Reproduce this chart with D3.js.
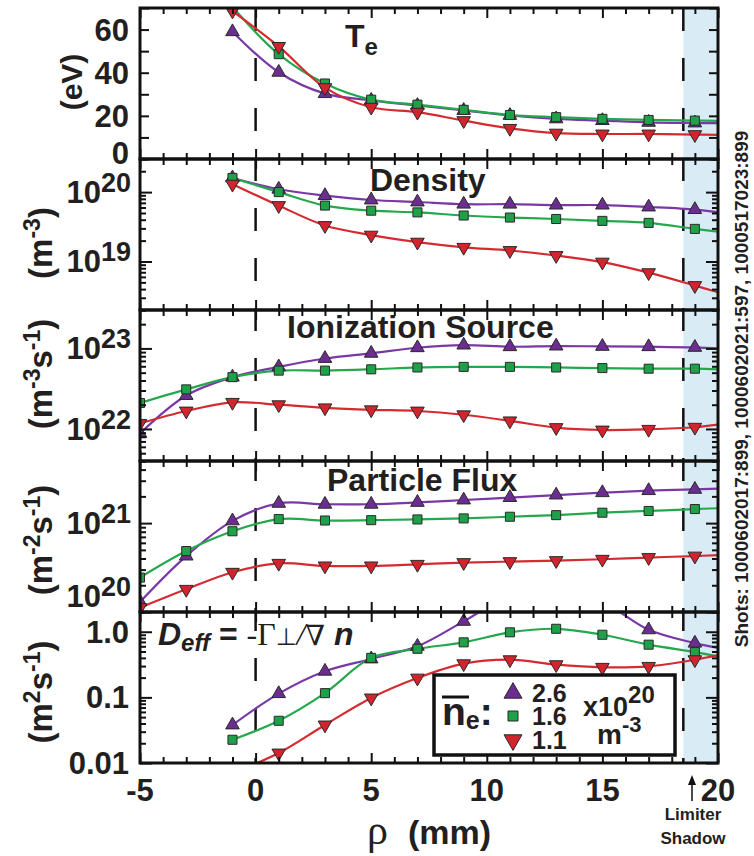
<!DOCTYPE html>
<html><head><meta charset="utf-8">
<script src="https://cdn.jsdelivr.net/npm/d3@7"></script>
<style>
body{margin:0;background:#fff}
svg{display:block;font-family:"Liberation Sans",Arial,Helvetica,sans-serif}
</style>
</head><body>
<svg id="c" width="754" height="856"></svg>
<script>
// ---------- data ----------
const rho = [-5,-3,-1,1,3,5,7,9,11,13,15,17,19,20];   // mm ; 20 = curve end at the plot edge (no marker)
const lineEnd = 20;
const rhoDomain = [-5, 20];
const xTicks = [-5, 0, 5, 10, 15, 20];
const separatrix = 0;
const limiterRho = 18.5;

const densityLabels = ["2.6","1.6","1.1"];   // x10^20 m^-3

// Te (eV)
const tePurple = [null,null,59,40.2,30.3,27.2,24.8,22.5,20.2,18.6,17.8,17.0,16.7,16.6];
const teGreen  = [null,null,70.5,48.6,35.0,27.5,25.2,22.8,20.4,19.4,18.6,18.1,17.8,17.7];
const teRed    = [null,null,68.6,52.2,33.1,24.0,21.7,17.8,14.2,12.0,11.6,11.6,11.3,11.2];
const teDomain = [0, 70];
const teTicks = [0, 20, 40, 60];

// Density (m^-3)
const nePurple = [null,null,1.6e20,1.1e20,8.9e19,7.7e19,7.2e19,6.7e19,6.7e19,6.5e19,6.5e19,6.1e19,5.6e19,5.1e19];
const neGreen  = [null,null,1.6e20,1.0e20,6.4e19,5.4e19,5.1e19,4.6e19,4.3e19,4.1e19,3.85e19,3.6e19,2.95e19,2.7e19];
const neRed    = [null,null,1.3e20,6.4e19,3.3e19,2.4e19,1.9e19,1.6e19,1.44e19,1.22e19,9.8e18,6.9e18,4.5e18,3.6e18];
const neDomain = [2e18, 3e20];
const neTicks = [1e19, 1e20];

// Ionization source (m^-3 s^-1)
const ionPurple = [8.8e21,2.6e22,4.4e22,5.9e22,7.5e22,8.7e22,1.02e23,1.1e23,1.05e23,1.07e23,1.06e23,1.05e23,1.03e23,1.0e23];
const ionGreen  = [2.1e22,3.1e22,4.4e22,5.3e22,5.3e22,5.5e22,5.8e22,5.9e22,5.9e22,5.8e22,5.7e22,5.6e22,5.6e22,5.5e22];
const ionRed    = [1.17e22,1.67e22,2.14e22,2.0e22,1.83e22,1.73e22,1.67e22,1.5e22,1.26e22,1.04e22,9.7e21,9.9e21,1.05e22,1.13e22];
const ionDomain = [4e21, 3e23];
const ionTicks = [1e22, 1e23];

// Particle flux (m^-2 s^-1)
const fluxPurple = [1.3e20,4.26e20,1.06e21,1.67e21,1.63e21,1.63e21,1.71e21,1.82e21,1.94e21,2.07e21,2.2e21,2.32e21,2.4e21,2.45e21];
const fluxGreen  = [2.44e20,4.85e20,8.1e20,1.11e21,1.07e21,1.08e21,1.1e21,1.13e21,1.18e21,1.23e21,1.31e21,1.37e21,1.44e21,1.47e21];
const fluxRed    = [1.12e20,1.8e20,2.8e20,3.53e20,3.3e20,3.3e20,3.44e20,3.6e20,3.69e20,3.79e20,3.92e20,4.1e20,4.26e20,4.37e20];
const fluxDomain = [1e20, 5e21];
const fluxTicks = [1e20, 1e21];

// D_eff (m^2 s^-1)
const dPurple = [null,null,0.038,0.114,0.25,0.385,0.6,1.44,3.5,4.0,2.8,1.07,0.67,0.565];
const dGreen  = [null,null,0.0226,0.044,0.116,0.40,0.55,0.69,0.98,1.11,0.90,0.635,0.49,0.42];
const dRed    = [null,null,0.007,0.0142,0.038,0.098,0.197,0.326,0.375,0.315,0.287,0.297,0.375,0.44];
const dDomain = [0.01, 2];
const dTicks = [0.01, 0.1, 1];
const dTickLabels = ["0.01","0.1","1.0"];

const shotsText = "Shots: 1000602017:899, 1000602021:597, 1000517023:899";

// ---------- layout / style ----------
const L = 140, R = 718, TOP = 8, PH = 151;
const fills = ["#6b2d8f", "#1fa14a", "#d2242d"];
const strokes = ["#7a38a6", "#25a84d", "#d62a31"];

const svg = d3.select("#c");
const x = d3.scaleLinear().domain(rhoDomain).range([L, R]);

function supLabel(g, parts, attrs) {
  const t = g.append("text");
  Object.entries(attrs).forEach(([k, v]) => t.attr(k, v));
  parts.forEach(p => {
    const s = t.append("tspan").text(p.t);
    if (p.size) s.attr("font-size", p.size);
    if (p.dy) s.attr("dy", p.dy);
    if (p.dx) s.attr("dx", p.dx);
    if (p.family) s.attr("font-family", p.family);
    if (p.style) s.attr("font-style", p.style);
    if (p.weight) s.attr("font-weight", p.weight);
  });
  return t;
}

const panels = [
  {type:"lin", domain:teDomain, data:[tePurple,teGreen,teRed], ticks:teTicks,
   minor:d3.range(0,71,10), labels:teTicks.map(v=>[{t:String(v)}]), lift:{0:6},
   unit:[{t:"(eV)"}], unitPos:[82,82], unitSize:30},
  {type:"log", domain:neDomain, data:[nePurple,neGreen,neRed], ticks:neTicks,
   labels:neTicks.map(v=>[{t:"10"},{t:String(Math.round(Math.log10(v))),size:27,dy:-11}]), lift:{},
   unit:[{t:"(m"},{t:"-3",size:23,dy:-12},{t:")",dy:12}], unitPos:[52,243], unitSize:33},
  {type:"log", domain:ionDomain, data:[ionPurple,ionGreen,ionRed], ticks:ionTicks,
   labels:ionTicks.map(v=>[{t:"10"},{t:String(Math.round(Math.log10(v))),size:27,dy:-11}]), lift:{},
   unit:[{t:"(m"},{t:"-3",size:23,dy:-12},{t:"s",dy:12},{t:"-1",size:23,dy:-12},{t:")",dy:12}], unitPos:[52,374], unitSize:33},
  {type:"log", domain:fluxDomain, data:[fluxPurple,fluxGreen,fluxRed], ticks:fluxTicks,
   labels:fluxTicks.map(v=>[{t:"10"},{t:String(Math.round(Math.log10(v))),size:27,dy:-11}]), lift:{0:16},
   unit:[{t:"(m"},{t:"-2",size:23,dy:-12},{t:"s",dy:12},{t:"-1",size:23,dy:-12},{t:")",dy:12}], unitPos:[52,540], unitSize:33},
  {type:"log", domain:dDomain, data:[dPurple,dGreen,dRed], ticks:dTicks,
   labels:dTickLabels.map(s=>[{t:s}]), lift:{},
   unit:[{t:"(m"},{t:"2",size:23,dy:-12},{t:"s",dy:12},{t:"-1",size:23,dy:-12},{t:")",dy:12}], unitPos:[52,692], unitSize:33}
];

const defs = svg.append("defs");
const bottomAll = TOP + PH * panels.length;

// shading (limiter shadow) across all panels
svg.append("rect").attr("x", x(limiterRho)).attr("y", TOP)
  .attr("width", x(rhoDomain[1]) - x(limiterRho)).attr("height", bottomAll - TOP)
  .attr("fill", "#d9ecf5");

// dashed lines
[separatrix, limiterRho].forEach(v => {
  svg.append("line").attr("x1", x(v)).attr("x2", x(v)).attr("y1", TOP).attr("y2", bottomAll)
    .attr("stroke", "#111").attr("stroke-width", 2.5).attr("stroke-dasharray", "23,27");
});

const symTypes = [
  d3.symbol().type(d3.symbolTriangle).size(80)(),
  d3.symbol().type(d3.symbolSquare).size(82)(),
  d3.symbol().type(d3.symbolTriangle).size(80)()
];
const symRot = [0, 0, 180];

panels.forEach((p, pi) => {
  const top = TOP + pi * PH, bot = top + PH;
  const y = (p.type === "log" ? d3.scaleLog() : d3.scaleLinear()).domain(p.domain).range([bot, top]);
  p.y = y;
  const cid = "clip" + pi;
  defs.append("clipPath").attr("id", cid).append("rect")
    .attr("x", L).attr("y", top).attr("width", R - L).attr("height", PH);
  const g = svg.append("g").attr("clip-path", `url(#${cid})`);

  const line = d3.line().defined(d => d[1] != null)
    .x(d => x(d[0])).y(d => y(d[1])).curve(d3.curveCatmullRom.alpha(0.5));

  p.data.forEach((arr, si) => {
    const pts = rho.map((r, i) => [r, arr[i]]);
    g.append("path").datum(pts).attr("d", line)
      .attr("fill", "none").attr("stroke", strokes[si]).attr("stroke-width", 2.2);
  });
  p.data.forEach((arr, si) => {
    const pts = rho.map((r, i) => [r, arr[i]]).filter(d => d[1] != null && d[0] !== lineEnd);
    g.selectAll(null).data(pts).enter().append("path")
      .attr("d", symTypes[si])
      .attr("transform", d => `translate(${x(d[0])},${y(d[1])}) rotate(${symRot[si]})`)
      .attr("fill", fills[si]).attr("stroke", "#2a2a2a").attr("stroke-width", 1);
  });

  // ticks via d3 axes
  let minorVals, majorVals;
  if (p.type === "log") {
    const lo = Math.floor(Math.log10(p.domain[0])), hi = Math.ceil(Math.log10(p.domain[1]));
    minorVals = [];
    for (let d = lo; d <= hi; d++) for (let k = 2; k <= 9; k++) {
      const v = k * Math.pow(10, d);
      if (v >= p.domain[0] * 0.999 && v <= p.domain[1] * 1.001) minorVals.push(v);
    }
    majorVals = p.ticks;
  } else {
    minorVals = p.minor; majorVals = [];
  }
  const tickG = svg.append("g");
  const mk = (axis, tx, ty, vals, len) => {
    const a = axis.tickValues(vals).tickSize(-len).tickFormat("");
    const gg = tickG.append("g").attr("transform", `translate(${tx},${ty})`).call(a);
    gg.select(".domain").remove();
    gg.selectAll("line").attr("stroke", "#111").attr("stroke-width", 2);
  };
  mk(d3.axisLeft(y), L, 0, minorVals, p.type === "log" ? 6 : 9);
  mk(d3.axisRight(y), R, 0, minorVals, p.type === "log" ? 6 : 9);
  if (majorVals.length) {
    mk(d3.axisLeft(y), L, 0, majorVals, 12);
    mk(d3.axisRight(y), R, 0, majorVals, 12);
  }
  const xMinor = d3.range(rhoDomain[0], rhoDomain[1] + 1).filter(v => !xTicks.includes(v));
  mk(d3.axisBottom(x), 0, bot, xMinor, 6);
  mk(d3.axisTop(x), 0, top, xMinor, 6);
  mk(d3.axisBottom(x), 0, bot, xTicks, 10);
  mk(d3.axisTop(x), 0, top, xTicks, 10);

  // frame
  svg.append("rect").attr("x", L).attr("y", top).attr("width", R - L).attr("height", PH)
    .attr("fill", "none").attr("stroke", "#111").attr("stroke-width", 3);

  // tick labels
  p.ticks.forEach((v, i) => {
    const lift = p.lift[i] || 0;
    supLabel(svg, p.labels[i], {x: p.type === "log" && p.labels[i].length > 1 ? 131 : 129,
      y: y(v) + 11 - lift, "text-anchor": "end", "font-size": 31, "font-weight": "bold", fill: "#231f20"});
  });

  // unit label
  supLabel(svg, p.unit, {transform: `translate(${p.unitPos[0]},${p.unitPos[1]}) rotate(-90)`,
    "text-anchor": "middle", "font-size": p.unitSize, "font-weight": "bold", fill: "#231f20"});
});

// panel titles
supLabel(svg, [{t:"T"},{t:"e",size:24,dy:8}], {x:345, y:47, "font-size":32, "font-weight":"bold", fill:"#231f20"});
supLabel(svg, [{t:"Density"}], {x:370, y:191, "font-size":32, "font-weight":"bold", fill:"#231f20"});
supLabel(svg, [{t:"Ionization Source"}], {x:287, y:338, "font-size":32, "font-weight":"bold", fill:"#231f20"});
supLabel(svg, [{t:"Particle Flux"}], {x:327, y:491, "font-size":32, "font-weight":"bold", fill:"#231f20"});
supLabel(svg, [
  {t:"D", style:"italic", weight:"bold"},
  {t:"eff", size:24, dy:6, style:"italic", weight:"bold"},
  {t:" = ", weight:"bold", dy:-6},
  {t:"-Γ", family:"'Liberation Serif','DejaVu Serif',serif"},
  {t:"⊥", family:"'DejaVu Sans',sans-serif", size:24},
  {t:"/", family:"'Liberation Serif',serif", style:"italic"},
  {t:"∇", family:"'DejaVu Serif',serif", size:28},
  {t:" n", style:"italic", weight:"bold"}
], {x:158, y:645, "font-size":32, fill:"#231f20"});

// x tick labels
xTicks.forEach(v => {
  svg.append("text").attr("x", x(v)).attr("y", 801).attr("text-anchor", "middle")
    .attr("font-size", 31).attr("font-weight", "bold").attr("fill", "#231f20").text(v);
});
// x axis title
supLabel(svg, [
  {t:"ρ", family:"'Liberation Serif','DejaVu Serif',serif", size:42, weight:"normal"},
  {t:"(mm)", dx:20}
], {x:367, y:844, "font-size":34, "font-weight":"bold", fill:"#231f20"});

// limiter shadow annotation
svg.append("line").attr("x1", 692).attr("x2", 692).attr("y1", 801).attr("y2", 782)
  .attr("stroke", "#111").attr("stroke-width", 1.5);
svg.append("path").attr("d", "M692,775 L688,785 L696,785 Z").attr("fill", "#111");
svg.append("text").attr("x", 693).attr("y", 820).attr("text-anchor", "middle")
  .attr("font-size", 17).attr("font-weight", "bold").attr("fill", "#231f20").text("Limiter");
svg.append("text").attr("x", 693).attr("y", 844).attr("text-anchor", "middle")
  .attr("font-size", 17).attr("font-weight", "bold").attr("fill", "#231f20").text("Shadow");

// shots text
svg.append("text").attr("transform", "translate(748,389) rotate(-90)").attr("text-anchor", "middle")
  .attr("font-size", 19).attr("font-weight", "bold").attr("fill", "#231f20").text(shotsText);

// legend
const lg = svg.append("g");
lg.append("rect").attr("x", 434).attr("y", 675).attr("width", 241).attr("height", 80)
  .attr("fill", "#fff").attr("stroke", "#111").attr("stroke-width", 3.5);
lg.append("line").attr("x1", 442).attr("x2", 469).attr("y1", 697).attr("y2", 697)
  .attr("stroke", "#111").attr("stroke-width", 3);
supLabel(lg, [{t:"n"},{t:"e",size:25,dy:4},{t:":",dy:-4}], {x:442, y:725, "font-size":39, "font-weight":"bold", fill:"#231f20"});
const legSyms = [
  d3.symbol().type(d3.symbolTriangle).size(140)(),
  d3.symbol().type(d3.symbolSquare).size(100)(),
  d3.symbol().type(d3.symbolTriangle).size(140)()
];
const legY = [693, 716, 740];
densityLabels.forEach((s, i) => {
  lg.append("path").attr("d", legSyms[i]).attr("transform", `translate(513,${legY[i]}) rotate(${symRot[i]})`)
    .attr("fill", fills[i]).attr("stroke", "#2a2a2a").attr("stroke-width", 1);
  lg.append("text").attr("x", 532).attr("y", legY[i] + 9).attr("font-size", 25).attr("font-weight", "bold")
    .attr("fill", "#231f20").text(s);
});
supLabel(lg, [{t:"x10"},{t:"20",size:24,dy:-13}], {x:583, y:716, "font-size":27, "font-weight":"bold", fill:"#231f20"});
supLabel(lg, [{t:"m"},{t:"-3",size:22,dy:-12}], {x:597, y:744, "font-size":28, "font-weight":"bold", fill:"#231f20"});
</script>
</body></html>
